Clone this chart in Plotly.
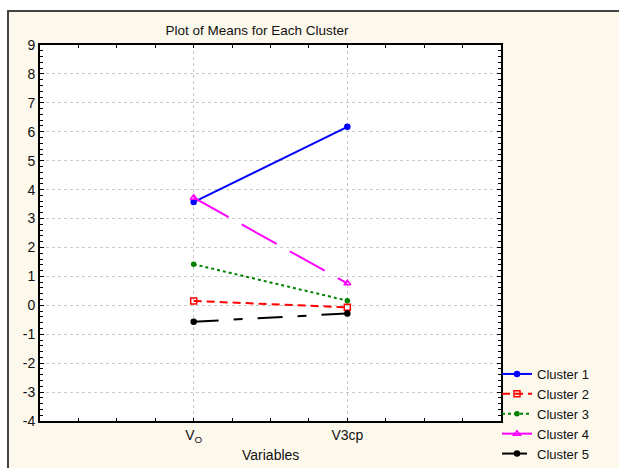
import plotly.graph_objects as go

variables = [0, 1]
var_labels = ["V<sub>O</sub>", "V3cp"]
clusters = ["Cluster 1", "Cluster 2", "Cluster 3", "Cluster 4", "Cluster 5"]
cluster1 = [3.57, 6.17]
cluster2 = [0.15, -0.07]
cluster3 = [1.42, 0.16]
cluster4 = [3.72, 0.76]
cluster5 = [-0.57, -0.28]
y_ticks = list(range(-4, 10))
y_labels = [str(v) for v in y_ticks]

series = [cluster1, cluster2, cluster3, cluster4, cluster5]
styles = [
    dict(color="#0000FF", dash="solid", symbol="circle", size=5),
    dict(color="#FF0000", dash="8px,5px", symbol="square-open", size=6),
    dict(color="#008000", dash="dot", symbol="circle", size=4),
    dict(color="#FF00FF", dash="40px,15px", symbol="triangle-up-open", size=6),
    dict(color="#000000", dash="25px,15px,9px,15px", symbol="circle", size=5),
]

fig = go.Figure()
for name, vals, st in zip(clusters, series, styles):
    fig.add_trace(go.Scatter(
        x=variables, y=vals, name=name, mode="lines+markers",
        line=dict(color=st["color"], dash=st["dash"], width=2),
        marker=dict(color=st["color"], symbol=st["symbol"], size=st["size"],
                    line=dict(color=st["color"], width=1.5)),
    ))

W, H = 619, 468
L, R, T, B = 40, 501, 45, 421
pw, ph = R - L, B - T

def px(x):
    return (x - L) / pw

def py(y):
    return (B - y) / ph

font = "Liberation Sans, Arial, sans-serif"
fig.update_layout(
    width=W, height=H,
    margin=dict(l=L, r=W - R, t=T, b=H - B, autoexpand=False),
    paper_bgcolor="white",
    plot_bgcolor="white",
    font=dict(family=font, size=13, color="#111111"),
    title=dict(text="Plot of Means for Each Cluster", x=257 / W, xanchor="center",
               y=1 - 30 / H, yanchor="middle", font=dict(size=13.5, color="#111111")),
    showlegend=True,
    legend=dict(x=px(497), xanchor="left", y=py(414), yanchor="middle",
                bgcolor="rgba(0,0,0,0)", font=dict(size=13), tracegroupgap=0,
                itemwidth=30),
    shapes=[
        dict(type="rect", xref="paper", yref="paper", layer="below",
             x0=px(8), x1=px(640), y0=py(490), y1=py(11),
             fillcolor="#FDF8EC", line=dict(color="#444444", width=2)),
        dict(type="rect", xref="paper", yref="paper", layer="below",
             x0=0, x1=1, y0=0, y1=1, fillcolor="white", line=dict(width=0)),
    ],
    annotations=[
        dict(text="Variables", xref="paper", yref="paper", x=px(270), y=py(455),
             xanchor="center", yanchor="middle", showarrow=False,
             font=dict(size=14, color="#111111")),
    ],
)
fig.update_xaxes(
    range=[-1, 2], tickvals=variables, ticktext=var_labels, automargin=False,
    showline=True, linecolor="black", linewidth=2, mirror="allticks",
    ticks="inside", ticklen=3, tickcolor="black", tickwidth=1,
    minor=dict(dtick=0.25, tick0=0, ticks="inside", ticklen=3, tickcolor="black", showgrid=False),
    showgrid=True, gridcolor="#C8C8C8", griddash="dot", gridwidth=1,
    zeroline=False, tickfont=dict(size=14),
)
fig.update_yaxes(
    range=[-4, 9], tickvals=y_ticks, ticktext=y_labels, automargin=False,
    showline=True, linecolor="black", linewidth=2, mirror="allticks",
    ticks="inside", ticklen=4, tickcolor="black", tickwidth=1,
    minor=dict(dtick=0.2, tick0=0, ticks="inside", ticklen=3, tickcolor="black", showgrid=False),
    showgrid=True, gridcolor="#C8C8C8", griddash="dot", gridwidth=1,
    zeroline=False, tickfont=dict(size=14),
)

fig.write_html("out.html")
